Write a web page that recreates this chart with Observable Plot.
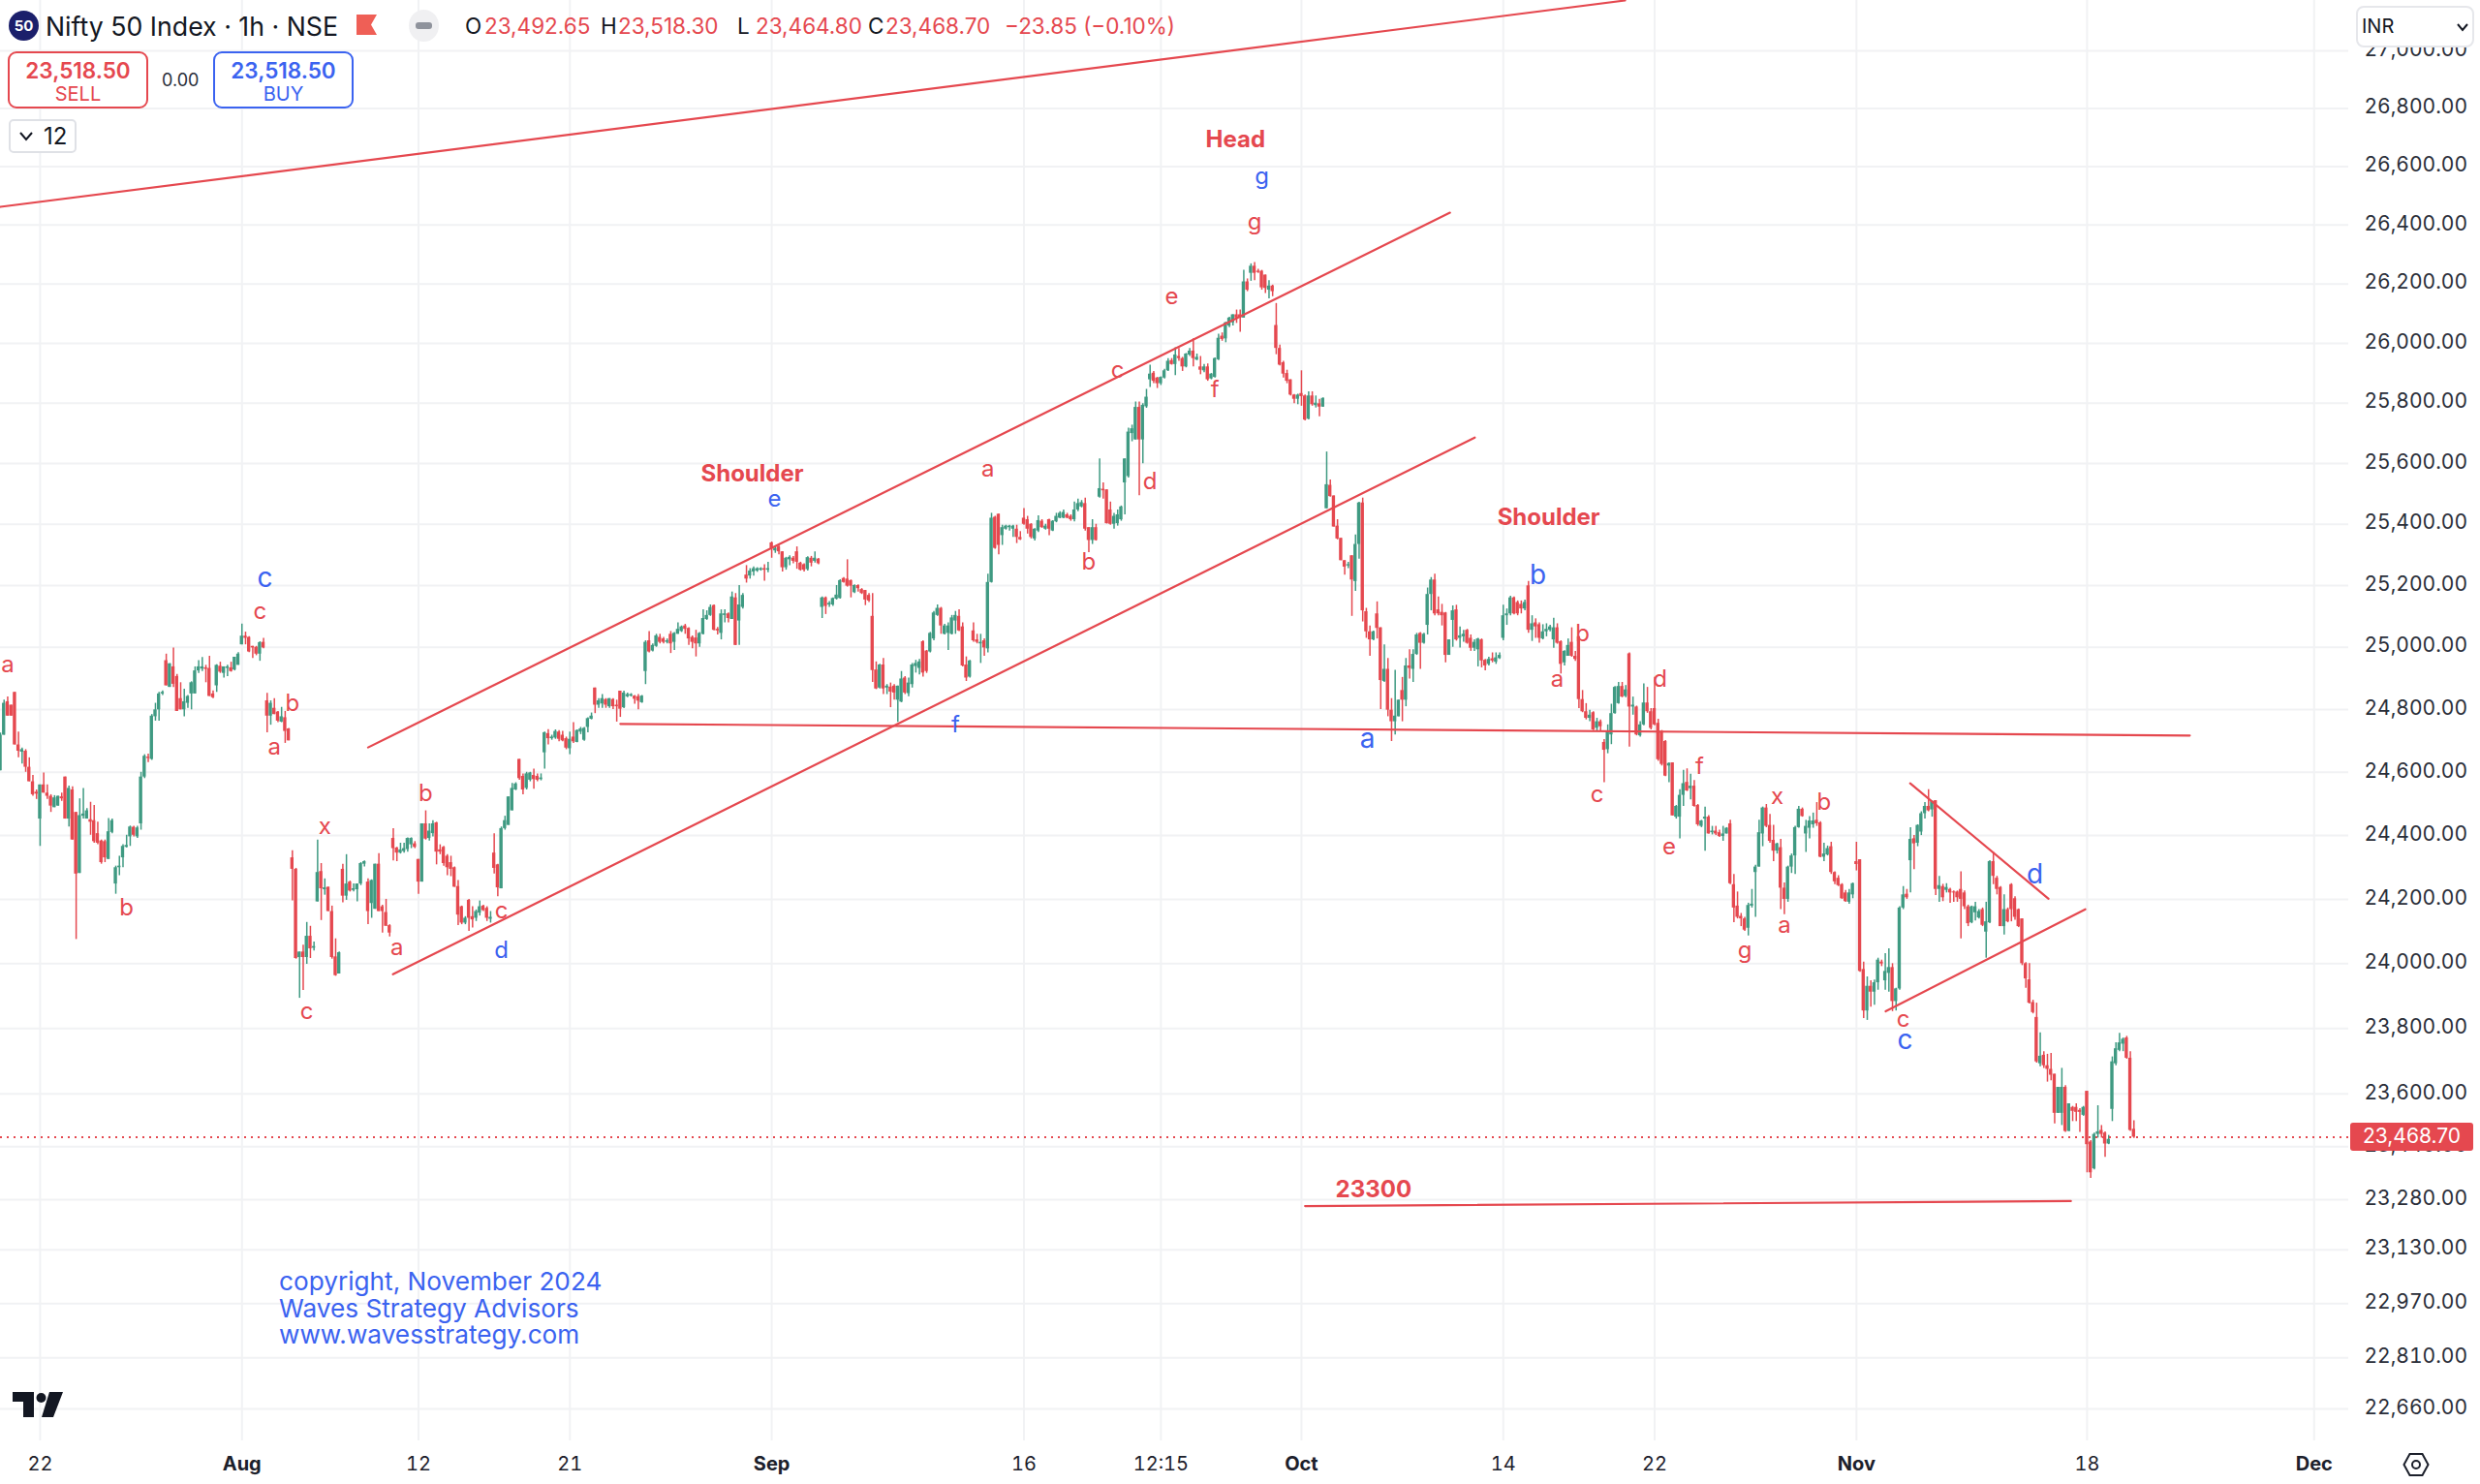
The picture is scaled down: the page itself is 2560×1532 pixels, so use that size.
<!DOCTYPE html>
<html>
<head>
<meta charset="utf-8">
<script src="https://cdn.jsdelivr.net/npm/d3@7"></script>
<script src="https://cdn.jsdelivr.net/npm/@observablehq/plot@0.6"></script>
<style>
html,body{margin:0;padding:0;background:#fff;font-family:Inter,"Noto Sans",sans-serif;}
#wrap{position:relative;width:2560px;height:1532px;overflow:hidden;}
#wrap svg{display:block;}
.ov{position:absolute;white-space:nowrap;}
.box{position:absolute;box-sizing:border-box;background:#fff;border-radius:9px;text-align:center;}
</style>
</head>
<body>
<div id="wrap"></div>
<script>
// Hourly bars, each row [open, high, low, close]
const barsJuly = [
[24605,24725,24605,24718],[24718,24830,24718,24820],[24825,24840,24779,24779],[24814,24814,24779,24779],[24855,24855,24687,24687],[24687,24728,24646,24667],[24664,24677,24626,24672],[24667,24672,24600,24616],[24616,24646,24570,24570],[24570,24590,24524,24529],
[24537,24544,24514,24531],[24452,24560,24366,24560],[24560,24598,24534,24534],[24534,24560,24514,24524],[24524,24529,24473,24493],[24488,24526,24488,24519],[24493,24524,24493,24524],[24522,24534,24508,24516],[24585,24585,24452,24452],[24452,24556,24427,24549],
[24544,24554,24386,24386],[24473,24473,24075,24279],[24281,24516,24281,24463],[24461,24549,24452,24468],[24452,24485,24452,24478],[24450,24505,24401,24442],[24447,24495,24376,24381],[24406,24442,24371,24376],[24383,24386,24310,24315],[24381,24386,24315,24330],
[24325,24454,24325,24412],[24410,24452,24406,24447],[24248,24304,24216,24299],[24299,24335,24274,24304],[24330,24371,24299,24366],[24363,24401,24361,24369],[24396,24430,24366,24427],[24426,24429,24396,24401],[24396,24429,24391,24424],[24437,24600,24417,24585],
[24585,24656,24580,24651],[24648,24658,24631,24644],[24641,24784,24638,24779],[24777,24820,24763,24799],[24799,24855,24763,24850],[24850,24860,24845,24855],[24957,24978,24876,24876],[24871,24947,24871,24947],[24937,24998,24871,24881],[24906,24913,24794,24794],
[24835,24886,24799,24799],[24799,24865,24777,24825],[24820,24845,24804,24842],[24850,24889,24799,24886],[24850,24937,24850,24924],[24924,24957,24916,24937],[24930,24967,24922,24937],[24934,24942,24886,24929],[24932,24971,24842,24842],[24850,24860,24835,24838],
[24876,24944,24855,24942],[24939,24952,24916,24920],[24916,24937,24901,24937],[24932,24942,24906,24937],[24934,24952,24920,24922],[24927,24968,24924,24968],[24942,24983,24942,24978]
];
const barsAugust = [
[25008,25075,25008,25036],[25036,25049,25008,25029],[25032,25034,24983,24985],[25003,25003,24964,24998],[25000,25003,24973,24978],[24978,25018,24955,25015],[25016,25029,24995,24998],
[24828,24852,24726,24779],[24779,24828,24750,24820],[24804,24835,24784,24784],[24792,24794,24758,24763],[24760,24807,24758,24777],[24774,24794,24692,24730],[24738,24740,24700,24700],
[24330,24352,24195,24294],[24294,24297,24014,24016],[24019,24036,23893,24036],[24036,24057,23917,24019],[24019,24128,23998,24085],[24085,24116,24016,24046],[24048,24067,24039,24053],[24192,24386,24192,24284],[24287,24312,24134,24233],[24230,24264,24213,24236],[24238,24238,24162,24162],[24162,24179,24014,24019],[24021,24077,23961,23963],[23968,24036,23968,24034],
[24294,24310,24189,24210],[24210,24340,24197,24248],[24254,24257,24223,24226],[24228,24248,24223,24233],[24230,24248,24192,24248],[24248,24315,24243,24312],[24310,24320,24301,24318],[24254,24264,24121,24162],[24187,24261,24141,24259],[24169,24310,24169,24310],[24310,24343,24162,24162],[24177,24182,24095,24162],[24159,24200,24116,24116],[24118,24121,24083,24095],
[24391,24422,24320,24359],[24361,24363,24318,24345],[24345,24376,24342,24355],[24350,24376,24345,24359],[24356,24393,24348,24391],[24371,24393,24359,24391],[24374,24381,24359,24363],
[24325,24325,24216,24254],[24254,24437,24254,24437],[24437,24478,24386,24389],[24391,24437,24383,24414],[24406,24447,24396,24437],[24440,24442,24308,24348],[24355,24371,24340,24348],[24363,24366,24304,24312],[24335,24340,24274,24299],[24315,24335,24271,24294],[24299,24301,24238,24238],[24240,24259,24118,24151],[24177,24179,24121,24126],[24126,24146,24121,24141],[24197,24200,24100,24141],[24146,24177,24111,24136],[24141,24167,24131,24162],[24157,24195,24148,24177],[24179,24182,24162,24165],[24172,24177,24131,24141],[24138,24162,24126,24144],
[24345,24406,24279,24297],[24308,24310,24208,24236],[24233,24427,24233,24422],[24422,24461,24417,24447],[24432,24522,24432,24522],[24478,24565,24478,24549],[24544,24567,24542,24563],[24641,24641,24575,24580],[24587,24595,24529,24544],[24549,24600,24544,24595],[24575,24600,24570,24598],[24590,24610,24546,24577],[24587,24595,24570,24575],[24577,24595,24573,24582],
[24662,24728,24610,24726],[24723,24736,24687,24707],[24707,24718,24702,24712],[24709,24735,24705,24730],[24728,24733,24697,24705],[24718,24730,24697,24700],[24707,24712,24672,24677],[24675,24728,24656,24705],[24712,24758,24692,24697],[24695,24735,24694,24733],[24728,24743,24720,24738],[24702,24743,24699,24740],[24743,24774,24726,24771],[24769,24789,24767,24779],[24869,24869,24787,24814],[24814,24835,24804,24828],[24818,24848,24804,24835],[24832,24835,24804,24814],[24809,24835,24804,24835],[24832,24835,24800,24809],[24814,24830,24760,24809],
[24859,24859,24775,24801],[24806,24859,24803,24853],[24841,24853,24838,24848],[24843,24851,24840,24848],[24843,24845,24817,24833],[24841,24848,24799,24827],[24822,24845,24820,24843],
[24922,25021,24880,25016],[25021,25051,24982,24985],[24988,25011,24985,25006],[25003,25042,25000,25037],[25032,25042,25011,25016],[25027,25032,25011,25016],[25016,25027,25011,25021],[25042,25051,24980,25011],[25016,25048,24990,25045],[25042,25079,25042,25058],[25051,25069,25048,25066],[25069,25074,25042,25058],[25061,25063,25006,25027],[25032,25037,24995,25016],[25030,25055,24969,25011],[25011,25048,25000,25045],[25042,25121,25040,25093],[25090,25118,25087,25103],[25103,25137,25100,25129],[25135,25137,25053,25055],[25058,25064,25040,25053],[25045,25121,25024,25108],[25103,25121,25079,25108],[25108,25111,25079,25093],[25090,25179,25090,25163],[25160,25174,25006,25006],[25085,25200,25006,25137],[25129,25174,25124,25168],
[25234,25265,25208,25221],[25231,25255,25221,25247],[25244,25261,25231,25255],[25247,25258,25243,25255],[25250,25258,25247,25255],[25255,25268,25214,25250],[25250,25276,25242,25255]
];
const barsSeptember = [
[25339,25342,25289,25321],[25313,25326,25305,25321],[25326,25331,25300,25310],[25310,25310,25244,25258],[25258,25292,25250,25289],[25284,25297,25265,25292],[25289,25295,25271,25279],[25310,25326,25253,25276],[25273,25276,25247,25250],[25268,25271,25244,25250],[25252,25294,25247,25291],[25289,25295,25261,25273],[25279,25310,25273,25289],[25286,25288,25268,25271],
[25129,25163,25093,25160],[25160,25163,25106,25132],[25137,25148,25129,25142],[25137,25160,25132,25158],[25156,25200,25153,25169],[25158,25219,25156,25216],[25223,25226,25208,25210],[25221,25284,25195,25198],[25216,25218,25160,25198],[25177,25202,25174,25200],[25200,25202,25179,25190],[25187,25190,25171,25174],[25184,25184,25135,25153],[25168,25174,25145,25150],[25100,25174,24887,24925],[24927,24953,24864,24866],[24869,24945,24866,24943],[24943,24964,24848,24866],[24869,24880,24848,24875],[24872,24885,24806,24856],[24875,24880,24830,24853],[24830,24875,24759,24875],[24824,24922,24822,24898],[24901,24906,24848,24853],[24851,24901,24841,24885],[24880,24948,24869,24943],[24938,24958,24917,24948],[24932,24961,24911,24953],[25018,25021,24904,24917],[24988,24990,24916,24922],[24985,25048,24982,25045],[25027,25116,25021,25111],[25103,25137,25100,25126],[25126,25129,25042,25069],[25042,25074,25040,25069],[25045,25079,24990,25069],[25042,25103,25040,25095],[25085,25116,25042,25103],[25100,25121,25051,25053],[25066,25079,24937,24940],[24943,24969,24890,24901],[24904,24958,24901,24956],
[25053,25079,25016,25021],[25024,25042,25011,25016],[25011,25042,24948,25016],[25021,25027,24971,24998],[24995,25237,24982,25210],[25210,25436,25208,25420],[25423,25426,25318,25321],[25433,25433,25300,25331],[25363,25397,25331,25389],[25384,25397,25381,25394],[25389,25397,25378,25394],[25384,25397,25357,25394],[25384,25397,25337,25357],[25357,25376,25347,25349],[25420,25452,25397,25400],[25415,25426,25368,25384],[25400,25402,25352,25357],[25352,25386,25345,25384],[25378,25428,25373,25412],[25410,25415,25387,25389],[25384,25400,25381,25394],[25415,25417,25363,25384],[25378,25412,25376,25410],[25408,25436,25405,25426],[25420,25441,25418,25436],[25420,25447,25418,25439],[25431,25436,25418,25420],[25426,25431,25410,25415],[25415,25473,25408,25447],[25447,25483,25441,25468],[25457,25478,25454,25471],[25468,25486,25378,25384],[25389,25389,25307,25347],[25347,25415,25334,25389],[25389,25400,25345,25347],
[25489,25615,25486,25517],[25515,25536,25483,25510],[25513,25513,25401,25402],[25447,25473,25397,25400],[25400,25436,25384,25426],[25402,25447,25394,25431],[25415,25460,25410,25457],[25536,25615,25431,25615],[25557,25717,25552,25704],[25699,25727,25672,25715],[25678,25804,25678,25786],[25786,25804,25494,25678],[25678,25798,25599,25793],[25788,25846,25783,25820],
[25878,25927,25852,25897],[25900,25906,25865,25873],[25884,25886,25849,25865],[25865,25888,25859,25886],[25884,25913,25881,25908],[25908,25949,25906,25940],[25942,25949,25927,25929],[25929,25985,25892,25961],[25956,25983,25940,25949],[25949,25953,25906,25921],[25921,25966,25918,25964],[25961,25983,25956,25974],[25974,26015,25921,25949],[25944,25964,25942,25953],
[25921,25956,25895,25910],[25908,25929,25902,25921],[25921,25931,25873,25878],[25881,25899,25878,25897],[25886,25951,25884,25949],[25945,26031,25942,26017],[26024,26035,26007,26013],[26015,26071,26002,26069],[26058,26088,26053,26085],[26069,26096,26058,26096],[26096,26112,26067,26085],[26096,26112,26037,26085],[26085,26246,26085,26207],[26207,26217,26174,26179],[26236,26268,26209,26260],[26260,26273,26211,26236],[26243,26250,26236,26239],[26243,26246,26179,26187],[26230,26230,26168,26185],[26179,26211,26150,26193],[26193,26196,26157,26174],
[26060,26134,25962,25983],[25983,25994,25924,25927],[25935,25940,25884,25897],[25899,25910,25865,25873],[25878,25878,25824,25827],[25827,25829,25798,25813],[25813,25830,25795,25827]
];
const barsOctober = [
[25832,25908,25790,25822],[25824,25827,25741,25744],[25747,25838,25744,25824],[25824,25838,25790,25795],[25792,25824,25784,25800],[25798,25813,25755,25787],[25787,25818,25786,25816],
[25451,25638,25451,25530],[25528,25546,25489,25491],[25493,25493,25391,25391],[25394,25415,25349,25352],[25354,25354,25281,25281],[25281,25281,25234,25260],[25264,25276,25255,25268],[25297,25297,25100,25218],[25213,25365,25181,25334],[25334,25472,25286,25470],[25470,25486,25082,25118],[25115,25126,25029,25050],[25050,25069,24971,25024],[25024,25052,25021,25050],[25108,25147,25027,25061],[25063,25063,24800,24893],[24890,25008,24887,24929],[24929,24964,24777,24798],[24798,24835,24698,24761],[24761,24926,24719,24779],[24777,24830,24777,24830],[24861,24903,24761,24830],[24830,24964,24809,24940],[24940,24992,24898,24932],[24929,24992,24887,24977],[24977,25045,24974,25040],[25045,25048,24929,25013],[25013,25045,25010,25042],[25071,25192,25040,25171],[25171,25226,25118,25218],[25218,25237,25102,25108],[25121,25163,25102,25108],[25113,25139,25069,25102],[25111,25113,24950,24974],[24974,25024,24974,25024],[25087,25134,25000,25118],[25121,25136,25020,25024],[25029,25066,24998,25037],[25034,25055,25016,25042],[25055,25058,25010,25013],[25029,25040,24987,24997],[24997,25024,24987,25016],[24992,25029,24937,25027],[25024,25027,24934,24956],[24958,24961,24924,24940],[24945,24968,24940,24961],[24963,24982,24950,24956],[24952,24982,24945,24966],[24964,24982,24961,24974],
[25029,25136,25021,25102],[25102,25124,25071,25108],[25108,25165,25102,25160],[25160,25163,25105,25108],[25145,25150,25102,25108],[25139,25150,25108,25124],[25124,25153,25118,25145],[25199,25213,25045,25055],[25055,25102,25019,25076],[25079,25092,25029,25066],[25073,25079,25013,25029],[25027,25073,25024,25050],[25050,25076,25034,25058],[25055,25071,25050,25066],[25024,25094,24997,25063],[25063,25076,25010,25013],[25018,25021,24914,24945],[24950,24989,24940,24987],[24971,25027,24971,25006],[25016,25063,24968,24971],[24971,24987,24955,24961],[25034,25034,24803,24832],[24832,24861,24790,24793],[24793,24819,24767,24772],[24772,24798,24761,24782],[24790,24793,24733,24735],[24740,24772,24730,24761],[24761,24767,24730,24745],[24695,24704,24567,24670],[24672,24751,24659,24730],[24719,24817,24688,24787],[24787,24874,24785,24871],[24819,24887,24817,24874],[24874,24887,24838,24840],[24842,24877,24838,24863],[24979,24982,24680,24808],[24808,24840,24782,24814],[24808,24811,24716,24719],[24716,24761,24712,24751],[24751,24882,24748,24821],[24821,24871,24788,24793],[24793,24803,24735,24740],[24803,24903,24748,24751],[24756,24769,24635,24640],[24730,24733,24620,24625],[24698,24701,24586,24588],[24620,24630,24567,24628],[24630,24630,24462,24462],
[24458,24495,24452,24492],[24458,24545,24390,24527],[24527,24606,24492,24564],[24568,24611,24539,24541],[24548,24594,24513,24556],[24556,24574,24490,24492],[24495,24498,24429,24434],[24429,24448,24425,24446],[24452,24490,24351,24458],[24458,24463,24405,24405],[24409,24429,24402,24414],[24414,24429,24400,24405],[24409,24417,24394,24397],[24397,24429,24382,24405],[24405,24425,24405,24423],[24437,24448,24246,24249],[24246,24278,24127,24173],[24179,24223,24139,24144],[24147,24156,24115,24139],[24139,24144,24100,24104],[24110,24188,24086,24181],[24179,24231,24173,24185],[24284,24307,24144,24301],[24301,24448,24301,24409],[24405,24490,24365,24487],[24487,24498,24425,24429],[24432,24467,24376,24382],[24385,24432,24318,24351],[24351,24376,24342,24374],[24362,24388,24168,24235],[24235,24251,24152,24200],[24200,24304,24191,24301],[24301,24342,24281,24336],[24336,24429,24278,24425],[24425,24492,24423,24483],[24483,24487,24458,24460],[24405,24448,24347,24429],[24423,24460,24390,24446],[24434,24471,24423,24446],[24448,24504,24429,24437],[24440,24444,24330,24332],[24332,24376,24318,24342],[24339,24367,24336,24359],[24365,24379,24278,24284],[24284,24286,24246,24255],[24266,24274,24240,24243],[24246,24249,24200,24202],[24220,24228,24191,24193],[24191,24231,24185,24220],[24214,24251,24202,24249]
];
const barsNovember = [
[24318,24379,24289,24309],[24324,24324,23973,23976],[23982,24005,23831,23854],[23854,23959,23825,23930],[23930,23947,23866,23912],[23912,23949,23872,23941],[23941,24017,23918,24011],[24005,24011,23991,23999],[23947,24031,23918,23976],[23970,24046,23912,23988],[23988,24000,23852,23883],[23883,23924,23854,23922],[23922,24177,23918,24173],[24173,24240,24168,24214],[24216,24231,24200,24205],[24321,24425,24220,24388],[24390,24400,24293,24374],[24376,24434,24365,24432],[24411,24475,24400,24469],[24469,24504,24452,24492],[24492,24545,24475,24478],[24481,24510,24458,24507],[24510,24510,24212,24231],[24231,24272,24191,24243],[24240,24247,24193,24205],[24228,24249,24220,24237],[24231,24235,24188,24220],[24223,24226,24191,24220],[24223,24226,24191,24205],[24231,24286,24077,24200],[24220,24226,24168,24177],[24177,24182,24115,24124],[24127,24179,24124,24177],[24158,24191,24133,24177],[24142,24168,24139,24162],[24168,24173,24115,24119],[24098,24191,24017,24130],[24127,24321,24124,24318],[24318,24347,24246,24272],[24266,24272,24214,24231],[24237,24240,24115,24115],[24115,24214,24089,24168],[24168,24173,24127,24130],[24246,24249,24130,24168],[24202,24208,24135,24144],[24168,24170,24112,24115],[24139,24139,23994,24000],[24000,24003,23924,23953],[23950,24000,23875,23878],[23880,23887,23845,23849],[23834,23878,23694,23698],[23692,23787,23683,23715],[23718,23729,23678,23686],[23686,23721,23636,23675],[23675,23724,23640,23657],[23660,23660,23509,23541],[23541,23620,23541,23620],[23541,23678,23504,23620],[23620,23625,23483,23486],[23486,23570,23486,23570],[23559,23562,23516,23547],[23559,23570,23516,23544],[23550,23555,23483,23544],[23535,23562,23532,23559],[23608,23608,23361,23446],[23454,23458,23344,23361],[23373,23481,23370,23477],[23477,23564,23466,23485],[23489,23504,23466,23477],[23481,23485,23408,23448],[23448,23474,23446,23462],[23553,23713,23516,23698],[23692,23756,23686,23738],[23733,23785,23729,23756],[23752,23771,23729,23767],[23771,23776,23706,23709],[23709,23729,23486,23489],[23492.65,23518.30,23464.80,23468.70]
];

// Axis ticks
const priceTicks = [27000,26800,26600,26400,26200,26000,25800,25600,25400,25200,25000,24800,24600,24400,24200,24000,23800,23600,23440,23280,23130,22970,22810,22660];
const dayBars = [11,116,158,284,322,417,459,579];
const dayLabels = ["22","12","21","16","12:15","14","22","18"];
const monthBars = [67,214,361,515,642];
const monthLabels = ["Aug","Sep","Oct","Nov","Dec"];
const lastPrice = 23468.70;

// Hand-drawn trend lines: [barA, priceA, barB, priceB]
const longTrend = [0,26462,450.8,27176];
const channelUpper = [102,24679,402.2,26442];
const channelLower = [108.9,23967,409.1,25686];
const neckline = [172,24754,607.5,24717];
const support23300 = [362,23261,574.5,23276];
const triangleUpper = [529.9,24565,568.3,24202];
const triangleLower = [523.1,23853,578.5,24169];

// Wave labels: [text, bar, price]
const redLabels = [["a",2,24939],["b",35,24171],["c",72,25112],["a",76,24676],["b",81,24816],["x",90,24424],["c",85,23848],["a",110,24048],["b",118,24528],["c",139,24162],["a",274,25578],["b",302,25273],["d",319,25536],["c",310,25906],["e",325,26154],["f",337,25841],["g",348,26406],["a",432,24893],["b",439,25039],["c",443,24525],["d",460.5,24893],["f",471.5,24614],["e",463,24360],["x",493,24519],["b",506,24501],["g",484,24039],["a",495,24117],["c",528,23824]];
const blueSmallLabels = [["d",139,24039],["e",214.8,25478],["f",265,24747],["g",350,26563]];
const blueLargeLabels = [["c",73.4,25219],["a",379.3,24701],["b",426.6,25231],["c",528.5,23761],["d",564.5,24275]];
const boldLabels = [["Shoulder",208.6,25562],["Head",342.7,26689],["Shoulder",429.6,25419],["23300",381,23308]];

const RED="#e5484f", GREEN="#3f9a82", BLUE="#3b63f0", GRID="#f1f2f4", INK="#1c202b";
const bars=[...barsJuly,...barsAugust,...barsSeptember,...barsOctober,...barsNovember]
  .map(([o,h,l,c],i)=>({i,o,h,l,c}));
const up=bars.filter(d=>d.c>=d.o), down=bars.filter(d=>d.c<d.o);
const seg=([a,b,c,d])=>Plot.line([[a,b],[c,d]],{x:d=>d[0],y:d=>d[1],stroke:RED,strokeWidth:2.2});
const labelMark=(rows,fill,fontSize,fontWeight)=>Plot.text(rows,{x:d=>d[1],y:d=>d[2],text:d=>d[0],fill,fontSize,fontWeight,textAnchor:"middle",lineAnchor:"middle",dy:-1});
const body=(rows,fill)=>Plot.rect(rows,{x1:d=>d.i-0.45,x2:d=>d.i+0.45,y1:"o",y2:"c",fill});
const wick=(rows,stroke)=>Plot.ruleX(rows,{x:"i",y1:"l",y2:"h",stroke,strokeWidth:1.5});

const chart=Plot.plot({
  width:2560,height:1532,marginTop:0,marginLeft:0,marginRight:136,marginBottom:45,
  style:{fontFamily:"Inter, sans-serif",background:"#fff"},
  x:{domain:[0,651.6],range:[0,2424],axis:null},
  y:{type:"log",domain:[27000,22660],range:[52,1454],axis:null},
  marks:[
    Plot.ruleY(priceTicks,{stroke:GRID,strokeWidth:2}),
    Plot.ruleX([...dayBars,...monthBars],{stroke:GRID,strokeWidth:2}),
    wick(up,GREEN),wick(down,RED),body(up,GREEN),body(down,RED),
    seg(longTrend),seg(channelUpper),seg(channelLower),seg(neckline),seg(support23300),seg(triangleUpper),seg(triangleLower),
    Plot.ruleY([lastPrice],{stroke:RED,strokeWidth:2,strokeDasharray:"2 5"}),
    labelMark(redLabels,RED,24,400),
    labelMark(blueSmallLabels,BLUE,24,400),
    labelMark(blueLargeLabels,BLUE,28,400),
    labelMark(boldLabels,RED,24,700),
    Plot.axisY({anchor:"right",ticks:priceTicks,tickSize:0,tickPadding:16,label:null,fontSize:21,fill:"#2a2e39",dy:-1.5,tickFormat:d3.format(",.2f")}),
    Plot.axisX({anchor:"bottom",ticks:dayBars,tickSize:0,tickPadding:16,label:null,fontSize:20,fill:INK,tickFormat:d=>dayLabels[dayBars.indexOf(d)]}),
    Plot.axisX({anchor:"bottom",ticks:monthBars,tickSize:0,tickPadding:16,label:null,fontSize:20,fontWeight:700,fill:INK,tickFormat:d=>monthLabels[monthBars.indexOf(d)]})
  ]
});
const wrap=document.getElementById("wrap");
wrap.appendChild(chart);
const overlay=document.createElement("div");
const ohlc=(l,t,c)=>`<div class="ov" style="left:${l}px;top:12px;font-size:22.5px;line-height:29px;color:${c};">${t}</div>`;
overlay.innerHTML=`
<div class="ov" style="left:9px;top:11px;width:31px;height:31px;border-radius:50%;background:#1b1f6b;color:#fff;font-size:15px;font-weight:700;line-height:31px;text-align:center;">50</div>
<div class="ov" style="left:47px;top:11px;font-size:26.7px;line-height:32px;color:#131722;">Nifty 50 Index · 1h · NSE</div>
<svg class="ov" style="left:368px;top:15px" width="22" height="22"><path d="M0 0H21L15 10.5L21 21H0Z" fill="#ef5f56"/></svg>
<div class="ov" style="left:422px;top:10px;width:31px;height:33px;border-radius:50%;background:#f0f0f2;"><div style="position:absolute;left:7px;top:13px;width:17px;height:7px;border-radius:3px;background:#8f939c"></div></div>
${ohlc(480,"O","#131722")}${ohlc(500,"23,492.65",RED)}${ohlc(620,"H","#131722")}${ohlc(638,"23,518.30",RED)}${ohlc(761,"L","#131722")}${ohlc(780,"23,464.80",RED)}${ohlc(896,"C","#131722")}${ohlc(914,"23,468.70",RED)}${ohlc(1037,"−23.85 (−0.10%)",RED)}
<div class="box" style="left:8px;top:53px;width:145px;height:59px;border:2px solid ${RED};color:${RED};"><div style="font-size:22.5px;font-weight:600;line-height:24px;margin-top:6px;">23,518.50</div><div style="font-size:20px;line-height:24px;">SELL</div></div>
<div class="ov" style="left:167px;top:71px;font-size:18px;line-height:24px;color:#2a2e39;">0.00</div>
<div class="box" style="left:220px;top:53px;width:145px;height:59px;border:2px solid ${BLUE};color:${BLUE};"><div style="font-size:22.5px;font-weight:600;line-height:24px;margin-top:6px;">23,518.50</div><div style="font-size:20px;line-height:24px;">BUY</div></div>
<div class="box" style="left:9px;top:123px;width:70px;height:35px;border:2px solid #dfe1e6;border-radius:5px;"></div>
<svg class="ov" style="left:19px;top:135px" width="16" height="12"><path d="M2 2L8 9L14 2" fill="none" stroke="#131722" stroke-width="2"/></svg>
<div class="ov" style="left:45px;top:125px;font-size:24px;line-height:31px;color:#131722;">12</div>
<div class="box" style="left:2432px;top:6px;width:122px;height:43px;border:2px solid #e6e7eb;border-radius:8px;"></div>
<div class="ov" style="left:2438px;top:13px;font-size:20px;line-height:28px;color:#131722;">INR</div>
<svg class="ov" style="left:2536px;top:24px" width="12" height="9"><path d="M1 1L6 7L11 1" fill="none" stroke="#131722" stroke-width="2"/></svg>
<div class="ov" style="left:2426px;top:1159px;width:127px;height:29px;background:${RED};border-radius:3px;color:#fff;font-size:21px;line-height:28px;text-align:center;">23,468.70</div>
<div class="ov" style="left:288px;top:1309px;font-size:26.2px;line-height:27.5px;color:${BLUE};">copyright, November 2024<br>Waves Strategy Advisors<br>www.wavesstrategy.com</div>
<svg class="ov" style="left:13px;top:1437px" width="53" height="27"><path d="M0 0H22V26H11V10H0ZM38 0H52L42 26H30Z" fill="#131722"/><circle cx="29.5" cy="6" r="5" fill="#131722"/></svg>
<svg class="ov" style="left:2480px;top:1499px" width="28" height="26"><path d="M7.5 2H20.5L26.5 13L20.5 24H7.5L1.5 13Z" fill="none" stroke="#1c202b" stroke-width="2"/><circle cx="14" cy="13" r="4" fill="none" stroke="#1c202b" stroke-width="2"/></svg>
`;
wrap.appendChild(overlay);
</script>
</body>
</html>
